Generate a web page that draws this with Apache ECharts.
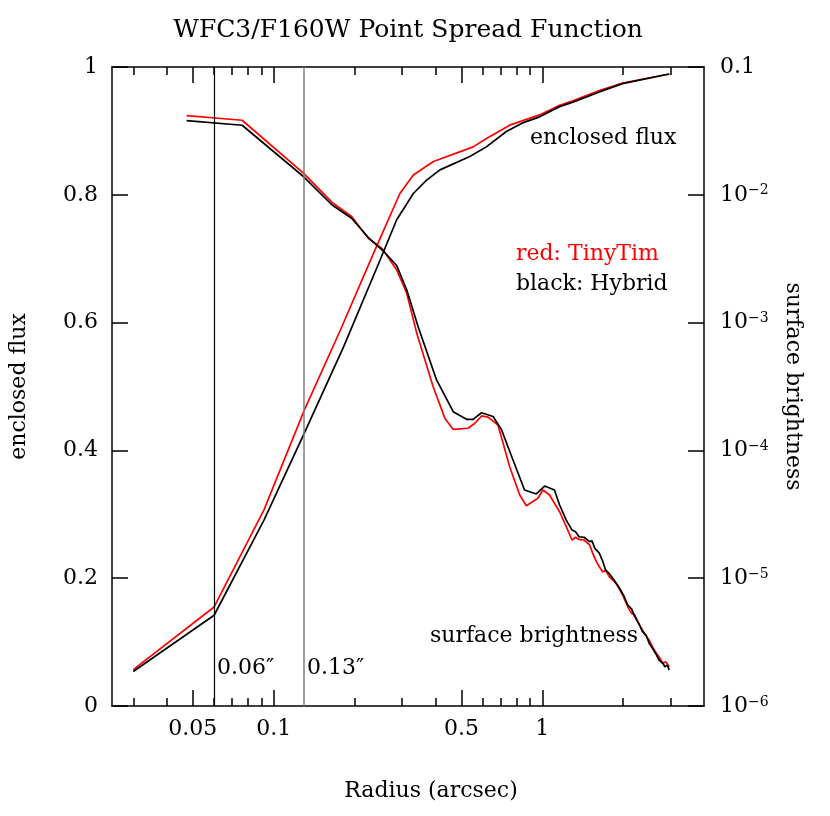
<!DOCTYPE html>
<html>
<head>
<meta charset="utf-8">
<title>WFC3/F160W Point Spread Function</title>
<script src="https://cdn.jsdelivr.net/npm/echarts@6/dist/echarts.min.js"></script>
<style>
  html, body { margin: 0; padding: 0; background: #fff; }
  #chart { width: 830px; height: 816px; }
</style>
</head>
<body>
<div id="chart"></div>
<script>
// radius in arcsec
const fluxHybridR = [0.030, 0.060, 0.092, 0.130, 0.182, 0.249, 0.287, 0.331, 0.371, 0.416, 0.537, 0.619, 0.735, 0.85, 0.977, 1.16, 1.30, 1.63, 1.99, 2.97];
const fluxHybrid  = [0.054, 0.142, 0.291, 0.427, 0.562, 0.698, 0.761, 0.802, 0.823, 0.839, 0.860, 0.875, 0.899, 0.913, 0.922, 0.938, 0.945, 0.961, 0.974, 0.989];

const fluxTinyTimR = [0.030, 0.060, 0.092, 0.130, 0.177, 0.235, 0.295, 0.331, 0.393, 0.553, 0.62, 0.756, 0.977, 1.16, 1.30, 1.63, 1.99, 2.97];
const fluxTinyTim  = [0.057, 0.155, 0.307, 0.463, 0.588, 0.708, 0.802, 0.831, 0.852, 0.875, 0.888, 0.909, 0.925, 0.940, 0.947, 0.963, 0.975, 0.989];

const sbHybridR = [0.0474, 0.0763, 0.129, 0.165, 0.195, 0.225, 0.256, 0.287, 0.313, 0.345, 0.404, 0.466, 0.522, 0.552, 0.594, 0.656, 0.705, 0.778, 0.859, 0.950,
  1.02, 1.11, 1.16, 1.228, 1.291, 1.33, 1.37, 1.43, 1.50, 1.53, 1.57, 1.63, 1.68, 1.72, 1.78, 1.85, 1.94, 2.02, 2.08, 2.15, 2.21,
  2.30, 2.36, 2.44, 2.50, 2.57, 2.66, 2.72, 2.81, 2.86, 2.92, 2.97];
const sbHybrid = [3.80e-2, 3.50e-2, 1.39e-2, 8.32e-3, 6.55e-3, 4.63e-3, 3.63e-3, 2.79e-3, 1.80e-3, 9.29e-4, 3.56e-4, 2.01e-4, 1.75e-4, 1.75e-4, 1.97e-4, 1.84e-4, 1.45e-4, 8.41e-5, 4.90e-5, 4.56e-5,
  5.26e-5, 4.90e-5, 3.74e-5, 2.85e-5, 2.38e-5, 2.31e-5, 2.11e-5, 2.09e-5, 1.93e-5, 1.96e-5, 1.71e-5, 1.57e-5, 1.35e-5, 1.16e-5, 1.08e-5, 9.68e-6, 8.34e-6, 7.16e-6, 6.17e-6, 5.75e-6, 5.00e-6,
  4.31e-6, 3.82e-6, 3.55e-6, 3.10e-6, 2.83e-6, 2.51e-6, 2.29e-6, 2.16e-6, 2.03e-6, 2.09e-6, 1.91e-6];

const sbTinyTimR = [0.0474, 0.0763, 0.129, 0.165, 0.195, 0.225, 0.253, 0.287, 0.313, 0.341, 0.392, 0.434, 0.466, 0.529, 0.561, 0.594, 0.628, 0.684, 0.756, 0.824, 0.872, 0.963,
  1.005, 1.064, 1.16, 1.228, 1.29, 1.33, 1.37, 1.43, 1.50, 1.54, 1.59, 1.63, 1.68, 1.72, 1.78, 1.83, 1.90, 1.99, 2.08, 2.15, 2.21,
  2.30, 2.36, 2.44, 2.50, 2.57, 2.66, 2.72, 2.81, 2.88, 2.97];
const sbTinyTim = [4.16e-2, 3.83e-2, 1.48e-2, 8.71e-3, 6.76e-3, 4.57e-3, 3.81e-3, 2.58e-3, 1.69e-3, 8.24e-4, 3.16e-4, 1.78e-4, 1.46e-4, 1.49e-4, 1.63e-4, 1.86e-4, 1.82e-4, 1.58e-4, 7.45e-5, 4.48e-5, 3.69e-5, 4.22e-5,
  4.90e-5, 4.48e-5, 3.31e-5, 2.53e-5, 1.99e-5, 2.09e-5, 2.01e-5, 1.99e-5, 1.82e-5, 1.57e-5, 1.35e-5, 1.23e-5, 1.12e-5, 1.15e-5, 1.02e-5, 9.68e-6, 8.85e-6, 7.40e-6, 5.98e-6, 5.31e-6, 5.15e-6,
  4.31e-6, 3.94e-6, 3.49e-6, 3.28e-6, 2.91e-6, 2.58e-6, 2.43e-6, 2.16e-6, 2.22e-6, 2.03e-6];

// axis ticks
const radiusRange = [0.025, 4];
const majorTicks = [0.05, 0.1, 0.5, 1];
const minorTicks = [0.03, 0.04, 0.06, 0.07, 0.08, 0.09, 0.2, 0.3, 0.4, 0.6, 0.7, 0.8, 0.9, 2, 3];
const sbRange = [1e-6, 0.1];
const markerRadii = [0.06, 0.13];

const FONT = 'DejaVu Serif';
const FS = 22;
const lg = Math.log10;

const pairs = (xs, ys, f) => xs.map((x, i) => [lg(x), f ? f(ys[i]) : ys[i]]);

const chart = echarts.init(document.getElementById('chart'));

const tickLine = { color: '#000', width: 1.5 };

const xBase = {
  type: 'value',
  min: lg(radiusRange[0]),
  max: lg(radiusRange[1]),
  splitLine: { show: false },
  axisLine: { show: false, onZero: false },
  axisLabel: { show: false }
};

const option = {
  animation: false,
  backgroundColor: '#fff',
  textStyle: { fontFamily: FONT, color: '#000' },
  title: {
    text: 'WFC3/F160W Point Spread Function',
    left: 403,
    top: 13,
    textAlign: 'center',
    textStyle: { fontFamily: FONT, fontSize: 25, fontWeight: 'normal', color: '#000' }
  },
  grid: { left: 112, right: 126, top: 67, bottom: 110 },
  xAxis: [
    Object.assign({}, xBase, {
      position: 'bottom',
      name: 'Radius (arcsec)',
      nameLocation: 'middle',
      nameGap: 74,
      nameTextStyle: { fontFamily: FONT, fontSize: FS, color: '#000', padding: [0, 0, 0, 46] },
      axisLine: { show: true, onZero: false, lineStyle: tickLine },
      axisTick: { inside: true, length: 16, lineStyle: tickLine, customValues: majorTicks.map(lg) },
      axisLabel: {
        show: true,
        margin: 12,
        fontFamily: FONT,
        fontSize: FS,
        color: '#000',
        customValues: majorTicks.map(lg),
        formatter: v => {
          let best = majorTicks[0];
          majorTicks.forEach(t => { if (Math.abs(lg(t) - v) < Math.abs(lg(best) - v)) best = t; });
          return String(best);
        }
      }
    }),
    Object.assign({}, xBase, {
      position: 'bottom',
      axisTick: { inside: true, length: 8, lineStyle: tickLine, customValues: minorTicks.map(lg) }
    }),
    Object.assign({}, xBase, {
      position: 'top',
      axisLine: { show: true, onZero: false, lineStyle: tickLine },
      axisTick: { inside: true, length: 16, lineStyle: tickLine, customValues: majorTicks.map(lg) }
    }),
    Object.assign({}, xBase, {
      position: 'top',
      axisTick: { inside: true, length: 8, lineStyle: tickLine, customValues: minorTicks.map(lg) }
    })
  ],
  yAxis: [
    {
      type: 'value',
      position: 'left',
      min: 0,
      max: 1,
      interval: 0.2,
      name: 'enclosed flux',
      nameLocation: 'middle',
      nameRotate: 90,
      nameGap: 82,
      nameTextStyle: { fontFamily: FONT, fontSize: FS, color: '#000' },
      splitLine: { show: false },
      axisLine: { show: true, onZero: false, lineStyle: tickLine },
      axisTick: { inside: true, length: 16, lineStyle: tickLine },
      axisLabel: { margin: 14, fontFamily: FONT, fontSize: FS, color: '#000' }
    },
    {
      type: 'value',
      position: 'right',
      min: lg(sbRange[0]),
      max: lg(sbRange[1]),
      interval: 1,
      name: 'surface brightness',
      nameLocation: 'middle',
      nameRotate: -90,
      nameGap: 78,
      nameTextStyle: { fontFamily: FONT, fontSize: FS, color: '#000' },
      splitLine: { show: false },
      axisLine: { show: true, onZero: false, lineStyle: tickLine },
      axisTick: { inside: true, length: 16, lineStyle: tickLine },
      axisLabel: {
        margin: 16,
        fontFamily: FONT,
        fontSize: FS,
        color: '#000',
        formatter: v => {
          const e = Math.round(v);
          if (e === -1) return '0.1';
          return '10{sup|\u2212' + (-e) + '}';
        },
        rich: {
          sup: { fontFamily: FONT, fontSize: 14, verticalAlign: 'top', color: '#000', padding: [0, 0, 6, 0] }
        }
      }
    }
  ],
  series: [
    {
      name: 'enclosed flux (TinyTim)',
      type: 'line',
      yAxisIndex: 0,
      showSymbol: false,
      symbol: 'none',
      lineStyle: { color: '#ff0000', width: 1.7 },
      data: pairs(fluxTinyTimR, fluxTinyTim),
      markLine: {
        silent: true,
        symbol: ['none', 'none'],
        label: { show: false },
        data: [
          { xAxis: lg(markerRadii[0]), lineStyle: { color: '#000', width: 1.2, type: 'solid' } },
          { xAxis: lg(markerRadii[1]), lineStyle: { color: '#808080', width: 1.5, type: 'solid' } }
        ]
      }
    },
    {
      name: 'surface brightness (TinyTim)',
      type: 'line',
      yAxisIndex: 1,
      showSymbol: false,
      symbol: 'none',
      lineStyle: { color: '#ff0000', width: 1.7 },
      data: pairs(sbTinyTimR, sbTinyTim, lg)
    },
    {
      name: 'enclosed flux (Hybrid)',
      type: 'line',
      yAxisIndex: 0,
      showSymbol: false,
      symbol: 'none',
      lineStyle: { color: '#000', width: 1.7 },
      data: pairs(fluxHybridR, fluxHybrid)
    },
    {
      name: 'surface brightness (Hybrid)',
      type: 'line',
      yAxisIndex: 1,
      showSymbol: false,
      symbol: 'none',
      lineStyle: { color: '#000', width: 1.7 },
      data: pairs(sbHybridR, sbHybrid, lg)
    }
  ],
  graphic: [
    { type: 'text', x: 530, y: 138, style: { text: 'enclosed flux', fill: '#000', font: FS + 'px "DejaVu Serif"', textAlign: 'left', textVerticalAlign: 'middle' } },
    { type: 'text', x: 516, y: 254, style: { text: 'red: TinyTim', fill: '#ff0000', font: FS + 'px "DejaVu Serif"', textAlign: 'left', textVerticalAlign: 'middle' } },
    { type: 'text', x: 516, y: 284, style: { text: 'black: Hybrid', fill: '#000', font: FS + 'px "DejaVu Serif"', textAlign: 'left', textVerticalAlign: 'middle' } },
    { type: 'text', x: 430, y: 636, style: { text: 'surface brightness', fill: '#000', font: FS + 'px "DejaVu Serif"', textAlign: 'left', textVerticalAlign: 'middle' } },
    { type: 'text', x: 217, y: 668, style: { text: '0.06\u2033', fill: '#000', font: FS + 'px "DejaVu Serif"', textAlign: 'left', textVerticalAlign: 'middle' } },
    { type: 'text', x: 307, y: 668, style: { text: '0.13\u2033', fill: '#000', font: FS + 'px "DejaVu Serif"', textAlign: 'left', textVerticalAlign: 'middle' } }
  ]
};

chart.setOption(option);
</script>
</body>
</html>
